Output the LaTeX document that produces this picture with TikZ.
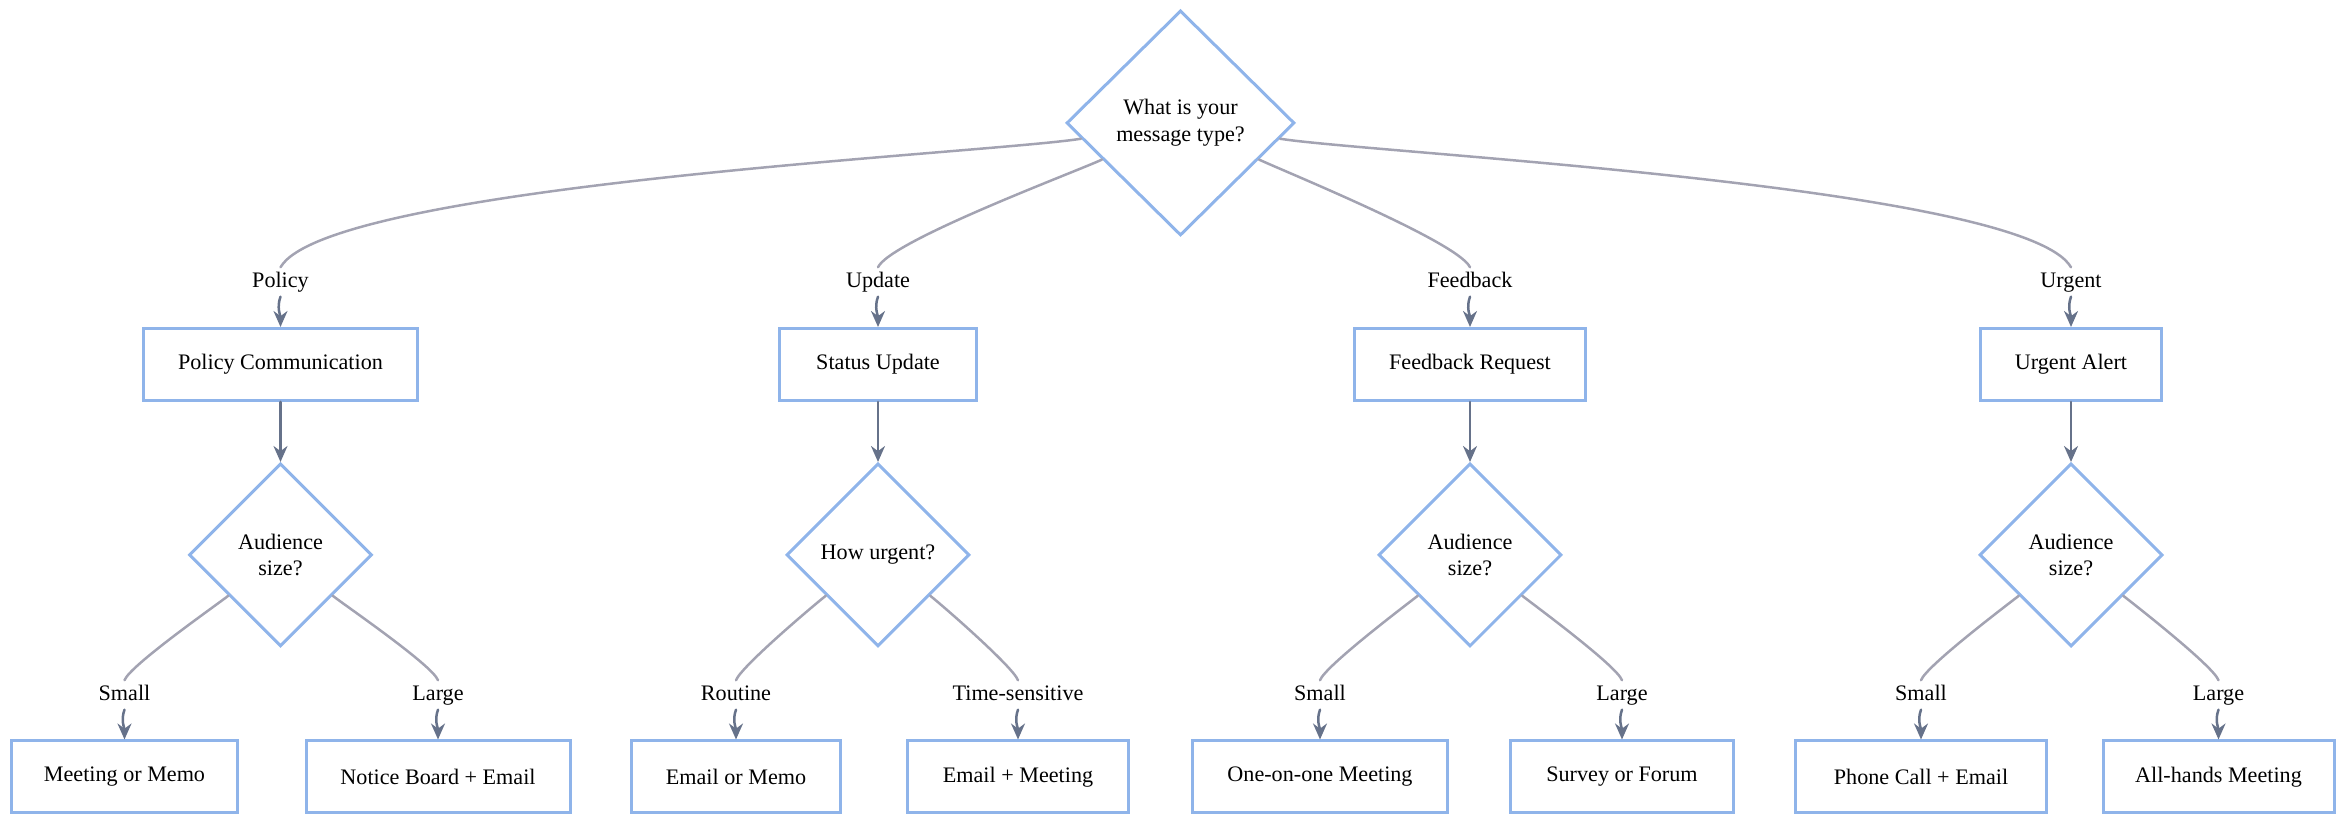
\documentclass[tikz,border=0pt]{standalone}
\usepackage{fontspec}
\setmainfont{Liberation Serif}
\usetikzlibrary{arrows.meta,shapes.geometric}

\definecolor{nodeblue}{HTML}{8FB4EA}
\definecolor{linegray}{HTML}{A3A3B2}
\definecolor{arrowgray}{HTML}{66728A}

\tikzset{
    box/.style = {draw=nodeblue, line width=0.3mm, minimum height=0.72cm,
        inner sep=0pt, font=\fontsize{6.3}{7.6}\selectfont},
    choice/.style = {diamond, draw=nodeblue, line width=0.3mm, inner sep=0pt,
        align=center, font=\fontsize{6.3}{7.6}\selectfont},
    tag/.style = {inner sep=1pt, text height=1.6mm, text depth=0.5mm,
        font=\fontsize{6.3}{7.6}\selectfont},
    link/.style = {draw=linegray, line width=0.25mm, looseness=0.3},
    flow/.style = {draw=arrowgray, line width=0.25mm, -{Stealth[length=1.6mm,width=1.4mm]}}
}

\begin{document}
\begin{tikzpicture}[line cap = round]

        \useasboundingbox (0,0) rectangle (23.52,8.24);

        % Question at the top.
        \node[choice, minimum width=2.28cm, minimum height=2.25cm] (type) at (11.805,7.01)
            {What is your\\message type?};

        % Message categories.
        \node[box, minimum width=2.745cm] (policy)   at (2.805,4.595) {Policy Communication};
        \node[box, minimum width=1.965cm] (status)   at (8.78,4.595)  {Status Update};
        \node[box, minimum width=2.31cm]  (feedback) at (14.7,4.595)  {Feedback Request};
        \node[box, minimum width=1.815cm] (urgent)   at (20.71,4.595) {Urgent Alert};

        \node[tag] (lPolicy)   at (2.805,5.42) {Policy};
        \node[tag] (lStatus)   at (8.78,5.42)  {Update};
        \node[tag] (lFeedback) at (14.7,5.42)  {Feedback};
        \node[tag] (lUrgent)   at (20.71,5.42) {Urgent};

        % Second questions.
        \node[choice, minimum size=1.83cm] (qPolicy)   at (2.805,2.69) {Audience\\size?};
        \node[choice, minimum size=1.83cm] (qStatus)   at (8.78,2.69)  {How urgent?};
        \node[choice, minimum size=1.83cm] (qFeedback) at (14.7,2.69)  {Audience\\size?};
        \node[choice, minimum size=1.83cm] (qUrgent)   at (20.71,2.69) {Audience\\size?};

        % Channels.
        \node[box, minimum width=2.25cm]  (memo)    at (1.245,0.47)  {Meeting or Memo};
        \node[box, minimum width=2.64cm]  (notice)  at (4.38,0.47)   {Notice Board + Email};
        \node[box, minimum width=2.085cm] (email)   at (7.36,0.47)   {Email or Memo};
        \node[box, minimum width=2.205cm] (emeet)   at (10.18,0.47)  {Email + Meeting};
        \node[box, minimum width=2.55cm]  (oneone)  at (13.2,0.47)   {One-on-one Meeting};
        \node[box, minimum width=2.235cm] (survey)  at (16.22,0.47)  {Survey or Forum};
        \node[box, minimum width=2.505cm] (phone)   at (19.21,0.47)  {Phone Call + Email};
        \node[box, minimum width=2.31cm]  (allhand) at (22.185,0.47) {All-hands Meeting};

        \node[tag] (lMemo)    at (1.245,1.29)  {Small};
        \node[tag] (lNotice)  at (4.38,1.29)   {Large};
        \node[tag] (lEmail)   at (7.36,1.29)   {Routine};
        \node[tag] (lEmeet)   at (10.18,1.29)  {Time-sensitive};
        \node[tag] (lOneone)  at (13.2,1.29)   {Small};
        \node[tag] (lSurvey)  at (16.22,1.29)  {Large};
        \node[tag] (lPhone)   at (19.21,1.29)  {Small};
        \node[tag] (lAllhand) at (22.185,1.29) {Large};

        % Lines from the top question.
        \draw[link] (type) to [out = 189, in = 60] (lPolicy.north);
        \draw[link] (type) to [out = 205, in = 65] (lStatus.north);
        \draw[link] (type) to [out = -25, in = 115] (lFeedback.north);
        \draw[link] (type) to [out = -9, in = 120] (lUrgent.north);

        % Lines from the second questions.
        \foreach \q/\a/\b in {qPolicy/lMemo/lNotice, qStatus/lEmail/lEmeet,
                              qFeedback/lOneone/lSurvey, qUrgent/lPhone/lAllhand} {
            \draw[link] (\q) to [out = 218, in = 70] (\a.north);
            \draw[link] (\q) to [out = -38, in = 110] (\b.north);
        }

        % Arrows into the boxes.
        \foreach \l/\n in {lPolicy/policy, lStatus/status, lFeedback/feedback, lUrgent/urgent,
                           lMemo/memo, lNotice/notice, lEmail/email, lEmeet/emeet,
                           lOneone/oneone, lSurvey/survey, lPhone/phone, lAllhand/allhand}
            \draw[flow] (\l.south) to [out = -110, in = 90] (\n.north);

        \foreach \n/\q in {policy/qPolicy, status/qStatus, feedback/qFeedback, urgent/qUrgent}
            \draw[flow] (\n.south) -- (\q.north);
    \end{tikzpicture}
\end{document}
